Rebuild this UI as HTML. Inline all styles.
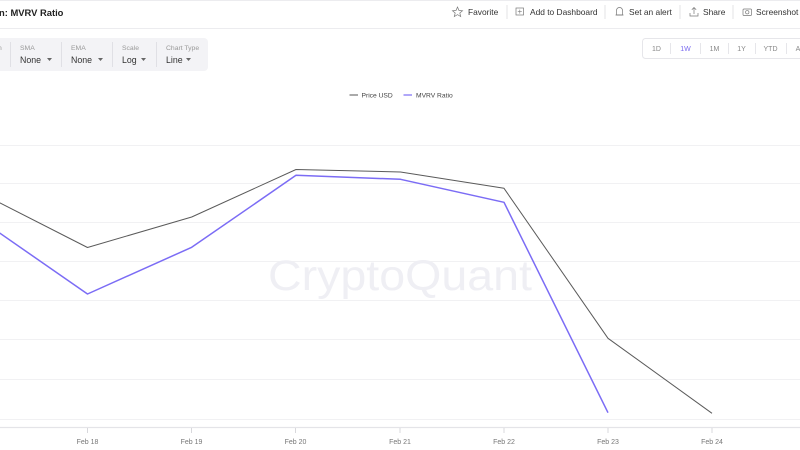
<!DOCTYPE html>
<html>
<head>
<meta charset="utf-8">
<style>
  html,body{margin:0;padding:0;background:#fff;}
  body{width:800px;height:450px;overflow:hidden;position:relative;font-family:"Liberation Sans",sans-serif;}
  svg{position:absolute;left:0;top:0;}
</style>
</head>
<body>
<svg width="800" height="450" viewBox="0 0 800 450" xmlns="http://www.w3.org/2000/svg" font-family="Liberation Sans, sans-serif">
  <!-- header -->
  <line x1="0" y1="0.5" x2="800" y2="0.5" stroke="#ececef"/>
  <line x1="0" y1="28.5" x2="800" y2="28.5" stroke="#ececef"/>
  <text x="-1" y="16" font-size="9.4" font-weight="bold" fill="#222">n: MVRV Ratio</text>

  <!-- header buttons -->
  <g fill="#333" font-size="8.4">
    <!-- star -->
    <polygon points="457.5,7 459,10.5 462.5,10.8 459.8,13 460.7,16.5 457.5,14.6 454.3,16.5 455.2,13 452.5,10.8 456,10.5" fill="none" stroke="#777" stroke-width="0.7"/>
    <text x="468" y="15">Favorite</text>
    <line x1="507" y1="5" x2="507" y2="19" stroke="#e3e3e6"/>
    <!-- folder -->
    <rect x="516" y="8" width="7.5" height="7" fill="none" stroke="#777" stroke-width="0.7"/>
    <line x1="517.8" y1="11.5" x2="521.8" y2="11.5" stroke="#777" stroke-width="0.6"/>
    <line x1="519.8" y1="9.6" x2="519.8" y2="13.6" stroke="#777" stroke-width="0.6"/>
    <text x="530" y="15">Add to Dashboard</text>
    <line x1="605" y1="5" x2="605" y2="19" stroke="#e3e3e6"/>
    <!-- bell -->
    <path d="M616.5,15 L616.5,11 Q616.5,7.5 619.5,7.5 Q622.5,7.5 622.5,11 L622.5,15 Z" fill="none" stroke="#777" stroke-width="0.7"/>
    <line x1="615.5" y1="15" x2="623.5" y2="15" stroke="#777" stroke-width="0.7"/>
    <text x="629" y="15">Set an alert</text>
    <line x1="680" y1="5" x2="680" y2="19" stroke="#e3e3e6"/>
    <!-- share -->
    <path d="M690,13 L690,16 L698,16 L698,13" fill="none" stroke="#777" stroke-width="0.7"/>
    <path d="M694,14 L694,7.5 M691.8,9.7 L694,7.5 L696.2,9.7" fill="none" stroke="#777" stroke-width="0.7"/>
    <text x="703" y="15">Share</text>
    <line x1="733" y1="5" x2="733" y2="19" stroke="#e3e3e6"/>
    <!-- camera -->
    <rect x="743" y="9" width="8.5" height="6.5" rx="1" fill="none" stroke="#777" stroke-width="0.7"/>
    <circle cx="747.25" cy="12.25" r="1.7" fill="none" stroke="#777" stroke-width="0.7"/>
    <text x="756" y="15">Screenshot</text>
  </g>

  <!-- toolbar box -->
  <rect x="-4" y="38" width="212" height="33" rx="4" fill="#f3f3f6"/>
  <g stroke="#e0e0e5">
    <line x1="10.5" y1="42" x2="10.5" y2="67"/>
    <line x1="61.5" y1="42" x2="61.5" y2="67"/>
    <line x1="112.5" y1="42" x2="112.5" y2="67"/>
    <line x1="156.5" y1="42" x2="156.5" y2="67"/>
  </g>
  <text x="-2" y="50" font-size="6.8" fill="#999">n</text>
  <g font-size="6.8" fill="#999">
    <text x="20" y="50">SMA</text>
    <text x="71" y="50">EMA</text>
    <text x="122" y="50">Scale</text>
    <text x="166" y="50">Chart Type</text>
  </g>
  <g font-size="8.8" fill="#333">
    <text x="20" y="63">None</text>
    <text x="71" y="63">None</text>
    <text x="122" y="63">Log</text>
    <text x="166" y="63">Line</text>
  </g>
  <g fill="#666">
    <polygon points="47,58 52,58 49.5,61"/>
    <polygon points="98,58 103,58 100.5,61"/>
    <polygon points="141,58 146,58 143.5,61"/>
    <polygon points="186,58 191,58 188.5,61"/>
  </g>

  <!-- range box -->
  <rect x="642.5" y="38.5" width="170" height="20" rx="3" fill="#fff" stroke="#e6e6ea"/>
  <g stroke="#e6e6ea">
    <line x1="670.5" y1="43" x2="670.5" y2="54"/>
    <line x1="700.5" y1="43" x2="700.5" y2="54"/>
    <line x1="728.5" y1="43" x2="728.5" y2="54"/>
    <line x1="755.5" y1="43" x2="755.5" y2="54"/>
    <line x1="786.5" y1="43" x2="786.5" y2="54"/>
  </g>
  <g font-size="7" fill="#888" text-anchor="middle">
    <text x="656.5" y="51">1D</text>
    <text x="685.5" y="51" fill="#7b6cf0">1W</text>
    <text x="714.5" y="51">1M</text>
    <text x="741.5" y="51">1Y</text>
    <text x="770.5" y="51">YTD</text>
    <text x="798" y="51">A</text>
  </g>

  <!-- legend -->
  <line x1="349.5" y1="95" x2="358" y2="95" stroke="#555" stroke-width="1"/>
  <text x="361.5" y="97.4" font-size="6.7" fill="#444">Price USD</text>
  <line x1="403.5" y1="95" x2="412" y2="95" stroke="#7b6cf5" stroke-width="1.2"/>
  <text x="416" y="97.4" font-size="6.7" fill="#444">MVRV Ratio</text>

  <!-- grid -->
  <g stroke="#f1f1f3" stroke-width="1">
    <line x1="0" y1="145.5" x2="800" y2="145.5"/>
    <line x1="0" y1="183.5" x2="800" y2="183.5"/>
    <line x1="0" y1="222.5" x2="800" y2="222.5"/>
    <line x1="0" y1="261.5" x2="800" y2="261.5"/>
    <line x1="0" y1="300.5" x2="800" y2="300.5"/>
    <line x1="0" y1="339.5" x2="800" y2="339.5"/>
    <line x1="0" y1="379.5" x2="800" y2="379.5"/>
    <line x1="0" y1="419.5" x2="800" y2="419.5"/>
  </g>

  <!-- watermark -->
  <text x="268" y="290" font-size="43" fill="#efeff4" textLength="264" lengthAdjust="spacingAndGlyphs">CryptoQuant</text>

  <!-- x axis -->
  <line x1="0" y1="427.5" x2="800" y2="427.5" stroke="#e4e4e8" stroke-width="1.2"/>
  <g stroke="#d8d8dc">
    <line x1="87.5" y1="428" x2="87.5" y2="433"/>
    <line x1="191.5" y1="428" x2="191.5" y2="433"/>
    <line x1="295.5" y1="428" x2="295.5" y2="433"/>
    <line x1="400" y1="428" x2="400" y2="433"/>
    <line x1="504" y1="428" x2="504" y2="433"/>
    <line x1="608" y1="428" x2="608" y2="433"/>
    <line x1="712" y1="428" x2="712" y2="433"/>
  </g>
  <g font-size="7" fill="#777" text-anchor="middle">
    <text x="87.5" y="444">Feb 18</text>
    <text x="191.5" y="444">Feb 19</text>
    <text x="295.5" y="444">Feb 20</text>
    <text x="400" y="444">Feb 21</text>
    <text x="504" y="444">Feb 22</text>
    <text x="608" y="444">Feb 23</text>
    <text x="712" y="444">Feb 24</text>
  </g>

  <!-- series -->
  <polyline fill="none" stroke="#5a5a5a" stroke-width="1" stroke-linejoin="round"
    points="-16.5,194.6 87.5,247.5 191.7,217 296,169.5 400.5,172 504,188.3 608,338.3 712,413.3"/>
  <polyline fill="none" stroke="#7b6cf5" stroke-width="1.5" stroke-linejoin="round"
    points="-16.5,221.8 87.5,294 191.7,247.3 296,175.3 400.5,179.3 504,202.3 608,412.7"/>
</svg>
</body>
</html>
